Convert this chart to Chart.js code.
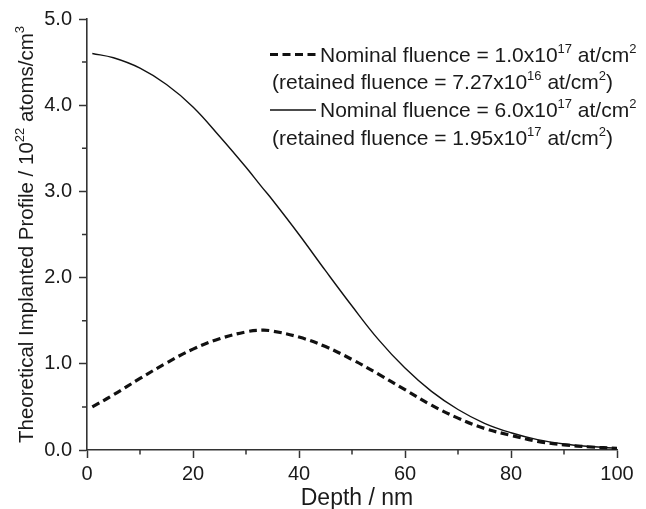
<!DOCTYPE html>
<html>
<head>
<meta charset="utf-8">
<script src="https://cdn.jsdelivr.net/npm/chart.js@4"></script>
<style>
body { margin: 0; background: #fff; }
#wrap { width: 646px; height: 509px; }
</style>
</head>
<body>
<div id="wrap"><canvas id="myChart"></canvas></div>
<script>
// depth in nm
var depths = [1, 5, 10, 15, 20, 25, 30, 33, 35, 40, 45, 50, 55, 60, 65, 70, 75, 80, 85, 90, 95, 100];
// profile, 10^22 atoms/cm^3
var lowFluence  = [0.50, 0.64, 0.83, 1.01, 1.17, 1.29, 1.37, 1.39, 1.38, 1.31, 1.20, 1.05, 0.88, 0.70, 0.52, 0.37, 0.25, 0.17, 0.10, 0.06, 0.035, 0.02];
var highFluence = [4.60, 4.55, 4.43, 4.24, 3.98, 3.64, 3.28, 3.05, 2.90, 2.50, 2.08, 1.67, 1.28, 0.95, 0.68, 0.47, 0.31, 0.20, 0.12, 0.07, 0.04, 0.02];

var xMinor = [10, 30, 50, 70, 90];
var yMinor = [0.5, 1.5, 2.5, 3.5, 4.5];

// text pieces: [text, isSuperscript]
var legendLines = [
    [['Nominal fluence = 1.0x10', 0], ['17', 1], [' at/cm', 0], ['2', 1]],
    [['(retained fluence = 7.27x10', 0], ['16', 1], [' at/cm', 0], ['2', 1], [')', 0]],
    [['Nominal fluence = 6.0x10', 0], ['17', 1], [' at/cm', 0], ['2', 1]],
    [['(retained fluence = 1.95x10', 0], ['17', 1], [' at/cm', 0], ['2', 1], [')', 0]]
];
var yTitle = [['Theoretical Implanted Profile / 10', 0], ['22', 1], [' atoms/cm', 0], ['3', 1]];
var xTitle = 'Depth / nm';

var FONT = '"Liberation Sans", Arial, sans-serif';
var DASH = [8, 4.5];

function richWidth(ctx, parts, size) {
    var w = 0;
    for (var p of parts) {
        ctx.font = (p[1] ? Math.round(size * 0.62) : size) + 'px ' + FONT;
        w += ctx.measureText(p[0]).width;
    }
    return w;
}

function drawRich(ctx, parts, x, y, size) {
    ctx.textAlign = 'left';
    ctx.textBaseline = 'alphabetic';
    for (var p of parts) {
        ctx.font = (p[1] ? Math.round(size * 0.62) : size) + 'px ' + FONT;
        ctx.fillText(p[0], x, p[1] ? y - size * 0.42 : y);
        x += ctx.measureText(p[0]).width;
    }
}

const extras = {
    id: 'extras',
    afterDraw(chart) {
        var ctx = chart.ctx;
        var area = chart.chartArea;
        var xs = chart.scales.x, ys = chart.scales.y;
        ctx.save();

        // minor ticks
        ctx.strokeStyle = '#333';
        ctx.lineWidth = 1.5;
        ctx.beginPath();
        for (var v of xMinor) {
            var px = xs.getPixelForValue(v);
            ctx.moveTo(px, area.bottom);
            ctx.lineTo(px, area.bottom + 4.5);
        }
        for (var v of yMinor) {
            var py = ys.getPixelForValue(v);
            ctx.moveTo(area.left, py);
            ctx.lineTo(area.left - 5, py);
        }
        ctx.stroke();

        ctx.fillStyle = '#1a1a1a';

        // y title
        var w = richWidth(ctx, yTitle, 20.5);
        ctx.save();
        ctx.translate(33, (area.top + area.bottom) / 2 + w / 2);
        ctx.rotate(-Math.PI / 2);
        drawRich(ctx, yTitle, 0, 0, 20.5);
        ctx.restore();

        // x title
        ctx.font = '23px ' + FONT;
        ctx.textAlign = 'center';
        ctx.textBaseline = 'alphabetic';
        ctx.fillText(xTitle, (area.left + area.right) / 2 + 5, 505);

        // legend
        var rows = [61.7, 89.3, 117.3, 145];
        ctx.strokeStyle = '#111';
        ctx.lineWidth = 3.2;
        ctx.setLineDash(DASH);
        ctx.beginPath();
        ctx.moveTo(270, 54.5);
        ctx.lineTo(316, 54.5);
        ctx.stroke();
        ctx.setLineDash([]);
        ctx.lineWidth = 1.4;
        ctx.beginPath();
        ctx.moveTo(270, 110);
        ctx.lineTo(316, 110);
        ctx.stroke();
        drawRich(ctx, legendLines[0], 320, rows[0], 21);
        drawRich(ctx, legendLines[1], 272, rows[1], 21);
        drawRich(ctx, legendLines[2], 320, rows[2], 21);
        drawRich(ctx, legendLines[3], 272, rows[3], 21);

        ctx.restore();
    }
};

const data = {
    datasets: [
        {
            label: 'Nominal fluence = 1.0x10^17 at/cm^2',
            data: depths.map((d, i) => ({ x: d, y: lowFluence[i] })),
            borderColor: '#111',
            borderWidth: 3.2,
            borderDash: DASH,
            pointRadius: 0,
            tension: 0.4,
            fill: false
        },
        {
            label: 'Nominal fluence = 6.0x10^17 at/cm^2',
            data: depths.map((d, i) => ({ x: d, y: highFluence[i] })),
            borderColor: '#111',
            borderWidth: 1.4,
            pointRadius: 0,
            tension: 0.4,
            fill: false
        }
    ]
};

const config = {
    type: 'line',
    data: data,
    options: {
        responsive: true,
        maintainAspectRatio: false,
        animation: false,
        layout: { padding: { top: 17, right: 29, left: 0, bottom: 0 } },
        plugins: {
            legend: { display: false },
            tooltip: { enabled: false }
        },
        scales: {
            x: {
                type: 'linear',
                min: 0,
                max: 100,
                afterFit: (s) => { s.height = 59; },
                border: { color: '#333', width: 1.6 },
                grid: { drawOnChartArea: false, tickLength: 8, tickColor: '#333', tickWidth: 1.5 },
                ticks: { stepSize: 20, padding: 4, color: '#1a1a1a', font: { family: FONT, size: 20 } }
            },
            y: {
                min: 0,
                max: 5,
                afterFit: (s) => { s.width = 87; },
                border: { color: '#333', width: 1.6 },
                grid: { drawOnChartArea: false, tickLength: 8, tickColor: '#333', tickWidth: 1.5 },
                ticks: {
                    stepSize: 1,
                    padding: 7,
                    color: '#1a1a1a',
                    font: { family: FONT, size: 20 },
                    callback: (v) => v.toFixed(1)
                }
            }
        }
    },
    plugins: [extras]
};

const myChart = new Chart(document.getElementById('myChart'), config);
</script>
</body>
</html>
